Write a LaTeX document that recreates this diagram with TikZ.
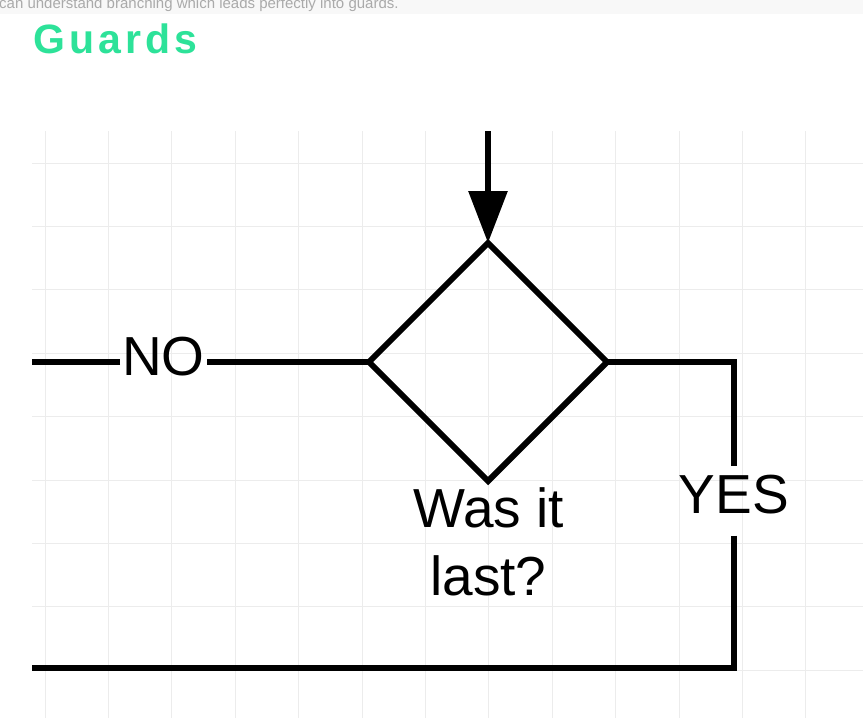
\documentclass[tikz,border=0pt]{standalone}
\usepackage{fontspec}
\setmainfont{Liberation Sans}
\newfontfamily\headfont[LetterSpace=10]{Liberation Sans}
\usetikzlibrary{shapes.geometric,arrows.meta}
\definecolor{guardgreen}{RGB}{45,226,153}
\definecolor{gridgray}{RGB}{236,236,236}
\definecolor{bandgray}{RGB}{248,248,248}
\definecolor{introgray}{RGB}{170,170,170}
\begin{document}
\begin{tikzpicture}[
            x=1pt,
            y=-1pt,
            flow/.style={line width=6pt, draw=black},
            lbl/.style={font=\fontsize{55}{68}\selectfont, inner sep=0pt},
            gridline/.style={gridgray, line width=1pt}
        ]
        \useasboundingbox (0,0) rectangle (863,728);
        \fill[white] (0,0) rectangle (863,728);
        \fill[bandgray] (0,0) rectangle (863,14);
        \begin{scope}
            \clip (0,0) rectangle (863,14);
            \node[anchor=base west, inner sep=0pt, text=introgray, font=\fontsize{15}{17}\selectfont] (intro) at (-1,9) {can understand branching which leads perfectly into guards.};
        \end{scope}
        \node[anchor=base west, inner sep=0pt, text=guardgreen, font=\headfont\bfseries\fontsize{41}{48}\selectfont] (title) at (33,53) {Guards};

        \foreach \i in {0,...,12}
            \draw[gridline] ({45+63.4*\i},131) -- ({45+63.4*\i},718);
        \foreach \j in {0,...,8}
            \draw[gridline] (32,{163+63.4*\j}) -- (863,{163+63.4*\j});

        \coordinate (start) at (488,131);
        \coordinate (noend) at (32,362);
        \coordinate (loopend) at (32,668);

        \node[diamond, flow, minimum width=238pt, minimum height=238pt, inner sep=0pt, outer sep=0pt] (last) at (488,362) {};
        \node[lbl, anchor=base, align=center] (question) at (488.5,595) {Was it\\last?};
        \node[lbl, anchor=base, inner xsep=2pt] (no) at (163.5,375) {NO};
        \node[lbl, anchor=base] (yes) at (734,513) {YES};

        \draw[flow, -{Triangle[length=52pt, width=38pt]}] (start) -- (last.north);
        \draw[flow] (last.west) -- (last.west -| no.east);
        \draw[flow] (last.west -| no.west) -- (noend);
        \draw[flow] (last.east) -| ([yshift=8.6pt]yes.north);
        \draw[flow] ([yshift=-22pt]yes.south) |- (loopend);
    \end{tikzpicture}
\end{document}
